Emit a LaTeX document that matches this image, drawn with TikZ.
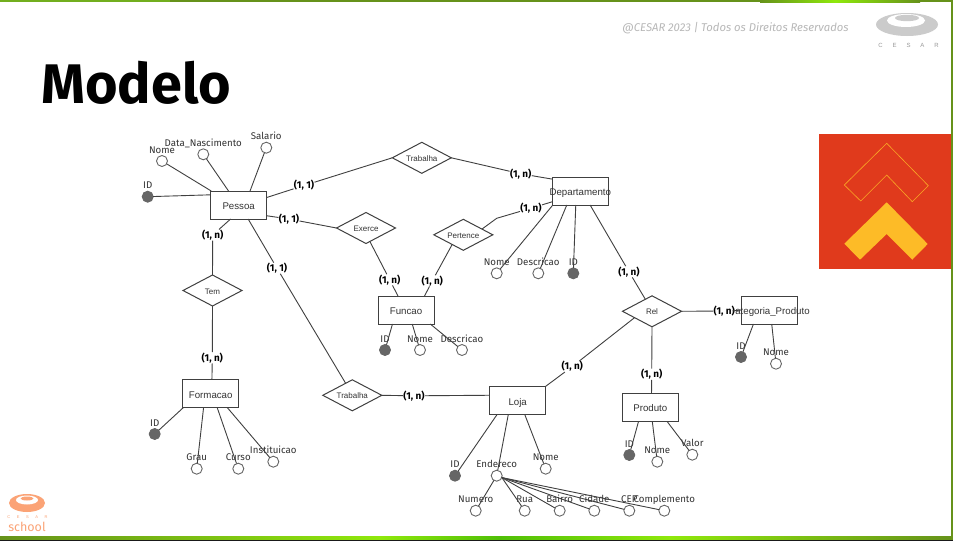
\documentclass[tikz,border=0pt]{standalone}
\usepackage{xcolor}
\usepackage{fontspec}
\usepackage{tikz}
\usetikzlibrary{positioning}
\usetikzlibrary{shapes.geometric}
\setmainfont{Liberation Sans}
\newfontfamily\firafont{Fira Sans}
\newfontfamily\logofont[LetterSpace=165]{Liberation Sans}
\newcommand{\widetext}[1]{\makebox[0pt]{#1}}
\definecolor{linecol}{HTML}{404040}
\definecolor{keycol}{HTML}{666666}
\definecolor{txtcol}{HTML}{333333}
\definecolor{slidegreen}{HTML}{66921A}
\definecolor{lightgreen}{HTML}{72AE1E}
\definecolor{limegreen}{HTML}{8FE80C}
\definecolor{logogray}{HTML}{CBCBCB}
\definecolor{logoorange}{HTML}{FBA376}
\definecolor{boxred}{HTML}{E03A1C}
\definecolor{chevyellow}{HTML}{FDBB27}

\begin{document}
\begin{tikzpicture}[x=1pt, y=-1pt, line width=0.9pt,
	entity/.style = {draw=linecol, line width=1pt, rectangle, minimum width=56pt, minimum height=28pt, inner sep=0pt, outer sep=0pt, text=txtcol, text height=9pt, text depth=0pt, font=\fontsize{9.7}{10}\selectfont},
	relation/.style = {draw=linecol, line width=1pt, diamond, aspect=1.9, minimum width=59pt, minimum height=31pt, inner sep=0pt, outer sep=0pt, text=txtcol, text height=7pt, text depth=0pt, font=\fontsize{8}{9}\selectfont},
	attr/.style = {draw=keycol, line width=0.9pt, fill=white, circle, minimum size=11pt, inner sep=0pt, outer sep=0pt},
	keyattr/.style = {attr, fill=keycol},
	attrtext/.style = {inner sep=0pt, text=txtcol, text height=7pt, text depth=2pt, font=\firafont\fontsize{9.7}{10}\selectfont},
	card/.style = {inner sep=0pt, text=black, font=\firafont\bfseries\fontsize{9.9}{10}\selectfont},
	conn/.style = {draw=linecol}]
	\useasboundingbox (0,0) rectangle (953,541);

	% slide frame
	\fill[white] (0,0) rectangle (953,541);
	\fill[slidegreen] (0,0) rectangle (953,2);
	\fill[lightgreen] (0,0) rectangle (170,2);
	\shade[left color=slidegreen, right color=limegreen] (760,0) rectangle (835,2);
	\shade[left color=limegreen, right color=slidegreen] (835,0) rectangle (920,2);
	\fill[slidegreen] (951,0) rectangle (953,541);
	\fill[black!90] (0,539) rectangle (953,541);
	\shade[left color=slidegreen, right color=limegreen] (0,536) rectangle (380,539);
	\shade[left color=limegreen, right color=limegreen!70!green!80!black] (380,536) rectangle (500,539);
	\shade[left color=limegreen!70!green!80!black, right color=limegreen] (500,536) rectangle (670,539);
	\shade[left color=limegreen, right color=slidegreen] (670,536) rectangle (953,539);

	% title and header
	\node[anchor=base west, inner sep=0pt, font=\firafont\bfseries\fontsize{55.8}{60}\selectfont] (Title) at (41,103) {Modelo};
	\node[anchor=west, inner sep=0pt, text=black!28, font=\firafont\itshape\fontsize{11.3}{12}\selectfont] (Copyright) at (622,28) {@CESAR 2023 | Todos os Direitos Reservados};

	% top logo
	\fill[logogray] (907,24.5) ellipse (31 and 11.5);
	\fill[white] (906,20.5) ellipse (19 and 6.5);
	\fill[logogray] (907,18) ellipse (12 and 3.2);
	\node[inner sep=0pt, text=black!40, font=\logofont\fontsize{6}{7}\selectfont] (LogoText) at (908.5,45) {CESAR};

	% bottom logo
	\fill[logoorange] (27,503) ellipse (18 and 9);
	\fill[white] (27,500) ellipse (11 and 4.5);
	\fill[logoorange] (27,498.5) ellipse (6.5 and 2);
	\node[inner sep=0pt, text=logoorange, font=\logofont\fontsize{4}{5}\selectfont] (SchoolMark) at (27.5,517) {CESAR};
	\node[inner sep=0pt, text=logoorange, font=\firafont\fontsize{12.5}{13}\selectfont] (School) at (27,527) {school};

	% red box
	\fill[boxred] (819,134) rectangle (951,269);
	\draw[chevyellow!85!boxred, line width=0.6pt] (886.7,143.3) -- (928.3,185.7) -- (912.3,201.7) -- (886.7,175) -- (860.7,201) -- (844.3,185) -- cycle;
	\fill[chevyellow] (886.7,202.3) -- (927.7,244) -- (912.3,259.7) -- (886.7,234) -- (860,259.7) -- (844.3,243.7) -- cycle;

	% entities
	\node[entity] (Pessoa) at (238.7,205) {Pessoa};
	\node[entity] (Funcao) at (406,310) {Funcao};
	\node[entity] (Departamento) at (580.3,191) {\widetext{Departamento}};
	\node[entity] (Categoria) at (769,310) {\widetext{Categoria\_Produto}};
	\node[entity] (Loja) at (517.7,400.7) {Loja};
	\node[entity] (Produto) at (650.3,407.3) {Produto};
	\node[entity] (Formacao) at (210.7,393.7) {Formacao};

	% relations
	\node[relation] (Trabalha) at (421.8,157.8) {Trabalha};
	\node[relation] (Exerce) at (366,228) {Exerce};
	\node[relation] (Tem) at (212.5,290.5) {Tem};
	\node[relation] (Pertence) at (463.3,234.8) {Pertence};
	\node[relation] (Rel) at (652,311.3) {Rel};
	\node[relation] (TrabalhaLoja) at (352.3,395.3) {Trabalha};

	% attributes of Pessoa
	\node[keyattr] (PessoaId) at (147.7,196.7) {};
	\node[attr] (PessoaNome) at (162,161) {};
	\node[attr] (PessoaData) at (203.3,154.3) {};
	\node[attr] (PessoaSalario) at (266.3,147.7) {};
	\node[attrtext, above = 0pt of PessoaId] (PessoaIdT) {ID};
	\node[attrtext, above = 0pt of PessoaNome] (PessoaNomeT) {Nome};
	\node[attrtext, above = 0pt of PessoaData] (PessoaDataT) {Data\_Nascimento};
	\node[attrtext, above = 0pt of PessoaSalario] (PessoaSalarioT) {Salario};

	% attributes of Funcao
	\node[keyattr] (FuncaoId) at (385,350) {};
	\node[attr] (FuncaoNome) at (420,350) {};
	\node[attr] (FuncaoDesc) at (462,350) {};
	\node[attrtext, above = 0pt of FuncaoId] (FuncaoIdT) {ID};
	\node[attrtext, above = 0pt of FuncaoNome] (FuncaoNomeT) {Nome};
	\node[attrtext, above = 0pt of FuncaoDesc] (FuncaoDescT) {Descricao};

	% attributes of Departamento
	\node[attr] (DepNome) at (496.7,273.3) {};
	\node[attr] (DepDesc) at (538.3,273.3) {};
	\node[keyattr] (DepId) at (573.3,273.3) {};
	\node[attrtext, above = 0pt of DepNome] (DepNomeT) {Nome};
	\node[attrtext, above = 0pt of DepDesc] (DepDescT) {Descricao};
	\node[attrtext, above = 0pt of DepId] (DepIdT) {ID};

	% attributes of Categoria_Produto
	\node[keyattr] (CatId) at (741,357) {};
	\node[attr] (CatNome) at (776,363.7) {};
	\node[attrtext, above = 0pt of CatId] (CatIdT) {ID};
	\node[attrtext, above = 0pt of CatNome] (CatNomeT) {Nome};

	% attributes of Produto
	\node[keyattr] (ProdId) at (629.3,455) {};
	\node[attr] (ProdNome) at (657.3,461.7) {};
	\node[attr] (ProdValor) at (692.3,454.7) {};
	\node[attrtext, above = 0pt of ProdId] (ProdIdT) {ID};
	\node[attrtext, above = 0pt of ProdNome] (ProdNomeT) {Nome};
	\node[attrtext, above = 0pt of ProdValor] (ProdValorT) {Valor};

	% attributes of Formacao
	\node[keyattr] (FormId) at (154.7,434) {};
	\node[attr] (FormGrau) at (196.7,468.7) {};
	\node[attr] (FormCurso) at (238.3,468.7) {};
	\node[attr] (FormInst) at (273.3,461.7) {};
	\node[attrtext, above = 0pt of FormId] (FormIdT) {ID};
	\node[attrtext, above = 0pt of FormGrau] (FormGrauT) {Grau};
	\node[attrtext, above = 0pt of FormCurso] (FormCursoT) {Curso};
	\node[attrtext, above = 0pt of FormInst] (FormInstT) {Instituicao};

	% attributes of Loja
	\node[keyattr] (LojaId) at (455,475.7) {};
	\node[attr] (LojaEnd) at (496.7,475.7) {};
	\node[attr] (LojaNome) at (545.7,468.7) {};
	\node[attrtext, above = 0pt of LojaId] (LojaIdT) {ID};
	\node[attrtext, above = 0pt of LojaEnd] (LojaEndT) {Endereco};
	\node[attrtext, above = 0pt of LojaNome] (LojaNomeT) {Nome};
	\node[attr] (EndNumero) at (475.7,510.7) {};
	\node[attr] (EndRua) at (524.7,510.7) {};
	\node[attr] (EndBairro) at (559.7,510.7) {};
	\node[attr] (EndCidade) at (594.3,510.7) {};
	\node[attr] (EndCep) at (629.3,510.7) {};
	\node[attr] (EndCompl) at (664.3,510.7) {};
	\node[attrtext, above = 0pt of EndNumero] (EndNumeroT) {Numero};
	\node[attrtext, above = 0pt of EndRua] (EndRuaT) {Rua};
	\node[attrtext, above = 0pt of EndBairro] (EndBairroT) {Bairro};
	\node[attrtext, above = 0pt of EndCidade] (EndCidadeT) {Cidade};
	\node[attrtext, above = 0pt of EndCep] (EndCepT) {CEP};
	\node[attrtext, above = 0pt of EndCompl] (EndComplT) {Complemento};

	% cardinalities
	\node[card] (c1) at (304,185.5) {(1, 1)};
	\node[card] (c2) at (520.7,173.8) {(1, n)};
	\node[card] (c3) at (289,219) {(1, 1)};
	\node[card] (c4) at (389.7,279.8) {(1, n)};
	\node[card] (c5) at (432.3,280.8) {(1, n)};
	\node[card] (c6) at (531,208.2) {(1, n)};
	\node[card] (c7) at (212.7,235) {(1, n)};
	\node[card] (c8) at (212.3,357.8) {(1, n)};
	\node[card] (c9) at (277,268.2) {(1, 1)};
	\node[card] (c10) at (414,395.8) {(1, n)};
	\node[card] (c11) at (629,271.8) {(1, n)};
	\node[card, fill=white] (c12) at (724.2,311) {(1, n)\hspace{2.4pt}};
	\node[card] (c13) at (572.3,366.5) {(1, n)};
	\node[card] (c14) at (651.7,374.2) {(1, n)};
	\coordinate (PertenceBend) at (496.7,218.3);

	\begin{scope}[conn]
		\draw (PessoaId) -- (Pessoa.160);
		\draw (PessoaNome) -- (Pessoa.153);
		\draw (PessoaData) -- (Pessoa.126);
		\draw (PessoaSalario) -- (Pessoa.51);
		\draw (Pessoa.15) -- (c1) -- (Trabalha.west);
		\draw (Trabalha.east) -- (c2) -- (Departamento.157);
		\draw (Pessoa.-21) -- (c3) -- (Exerce.west);
		\draw (Exerce.-74) -- (c4) -- (Funcao.120);
		\draw (Pertence.221) -- (c5) -- (Funcao.37);
		\draw (Pertence.17) -- (PertenceBend) -- (c6) -- (Departamento.201);
		\draw (Pessoa.240) -- (c7) -- (Tem.north);
		\draw (Tem.south) -- (c8) -- (Formacao.85);
		\draw (Pessoa.-56) -- (c9) -- (TrabalhaLoja.119);
		\draw (TrabalhaLoja.east) -- (c10) -- (Loja.169);
		\draw (Departamento.-55) -- (c11) -- (Rel.119);
		\draw (Rel.east) -- (c12);
		\draw ([xshift=-3pt]c12.east) -- (Categoria.west);
		\draw (Rel.200) -- (c13) -- (Loja.27);
		\draw (Rel.south) -- (c14) -- (Produto.85);

		\draw (FuncaoId) -- (Funcao.226);
		\draw (FuncaoNome) -- (Funcao.-66);
		\draw (FuncaoDesc) -- (Funcao.-30);
		\draw (DepNome) -- (Departamento.207);
		\draw (DepDesc) -- (Departamento.226);
		\draw (DepId) -- (Departamento.252);
		\draw (CatId) -- (Categoria.222);
		\draw (CatNome) -- (Categoria.-79);
		\draw (ProdId) -- (Produto.230);
		\draw (ProdNome) -- (Produto.-82);
		\draw (ProdValor) -- (Produto.-40);
		\draw (FormId) -- (Formacao.207);
		\draw (FormGrau) -- (Formacao.243);
		\draw (FormCurso) -- (Formacao.-65);
		\draw (FormInst) -- (Formacao.-40);
		\draw (LojaId) -- (Loja.214);
		\draw (LojaEnd) -- (Loja.236);
		\draw (LojaNome) -- (Loja.-63);
		\draw (LojaEnd) -- (EndNumero);
		\draw (LojaEnd.-20) -- (EndRua);
		\draw (LojaEnd.-20) -- (EndBairro);
		\draw (LojaEnd.-20) -- (EndCidade);
		\draw (LojaEnd.-20) -- (EndCep);
		\draw (LojaEnd.-20) -- (EndCompl);
	\end{scope}
\end{tikzpicture}
\end{document}
